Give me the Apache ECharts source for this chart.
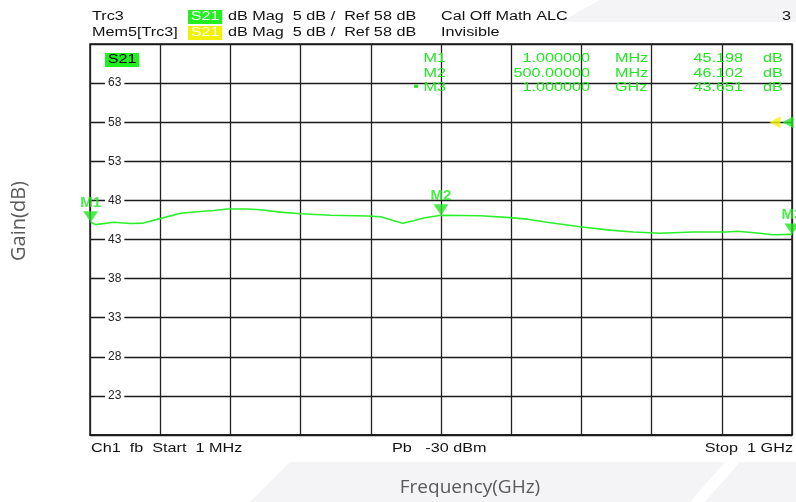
<!DOCTYPE html>
<html>
<head>
<meta charset="utf-8">
<script src="https://cdn.jsdelivr.net/npm/echarts@6/dist/echarts.min.js"></script>
<style>
html, body { margin: 0; padding: 0; background: #fff; }
#chart { width: 796px; height: 502px; }
</style>
</head>
<body>
<div id="chart"></div>
<script>
// trace Trc3 S21 (MHz, dB)
var freqMHz = [1, 8, 34, 58, 76, 101, 129, 153, 176, 196, 224, 243, 271, 300, 343, 395, 414, 445, 461, 475, 500, 556, 598, 623, 651, 698, 741, 774, 812, 859, 907, 922, 954, 973, 1000];
var gainDb = [45.2, 44.9, 45.2, 45.05, 45.1, 45.7, 46.35, 46.55, 46.7, 46.9, 46.9, 46.8, 46.5, 46.3, 46.1, 46.0, 45.9, 45.07, 45.4, 45.74, 46.1, 46.04, 45.8, 45.6, 45.2, 44.63, 44.2, 43.95, 43.8, 43.95, 43.95, 44.05, 43.8, 43.6, 43.65];

var markerNames = ['M1', 'M2', 'M3'];
var markerFreq = [1, 500, 1000];
var markerGain = [45.198, 46.102, 43.651];
var markerFreqText = ['1.000000', '500.00000', '1.000000'];
var markerUnit = ['MHz', 'MHz', 'GHz'];

var yMin = 18, yMax = 68, yStep = 5;
var xMin = 0, xMax = 1000, xStep = 100;
var refLevel = 58;

var green = '#22e622';
var font = '"Liberation Sans", Arial, sans-serif';
var stretch = 1.35;

var chart = echarts.init(document.getElementById('chart'));

// small helper for the instrument texts (screen font is stretched sideways)
function txt (x, y, text, opt) {
  opt = opt || {};
  return {
    type: 'text',
    x: x,
    y: y,
    scaleX: stretch,
    z: 10,
    style: {
      text: text,
      fill: opt.color || '#111',
      font: (opt.size || 12) + 'px ' + font,
      align: opt.align || 'left',
      verticalAlign: 'middle',
      backgroundColor: opt.bg,
      padding: opt.bg ? [1, 2] : 0
    }
  };
}

var graphics = [
  // faint background shapes of the slide
  { type: 'polygon', z: -10, shape: { points: [[600, 0], [796, 0], [796, 22], [560, 22]] }, style: { fill: '#f4f4f6' } },
  { type: 'polygon', z: -10, shape: { points: [[250, 502], [290, 462], [796, 462], [796, 502]] }, style: { fill: '#f4f4f6' } },
  { type: 'polygon', z: -9, shape: { points: [[690, 502], [725, 462], [740, 462], [705, 502]] }, style: { fill: '#ffffff' } },

  txt(92, 17, 'Trc3'),
  txt(188, 17, 'S21', { bg: '#22ee22', color: '#fff' }),
  txt(228, 17, 'dB Mag  5 dB /  Ref 58 dB'),
  txt(441, 17, 'Cal Off Math ALC'),
  txt(791, 17, '3', { align: 'right' }),
  txt(92, 33, 'Mem5[Trc3]'),
  txt(188, 33, 'S21', { bg: '#f2f200', color: '#fff' }),
  txt(228, 33, 'dB Mag  5 dB /  Ref 58 dB'),
  txt(441, 33, 'Invisible'),

  txt(105, 60, 'S21', { bg: '#22ee22', color: '#000' }),

  txt(91, 449, 'Ch1  fb  Start  1 MHz'),
  txt(392, 449, 'Pb   -30 dBm'),
  txt(793, 449, 'Stop  1 GHz', { align: 'right' }),

  {
    type: 'text', x: 470, y: 488, z: 10,
    style: { text: 'Frequency(GHz)', fill: '#595959', font: '19px "Open Sans", sans-serif', align: 'center', verticalAlign: 'middle' }
  },
  {
    type: 'text', x: 19, y: 221, rotation: Math.PI / 2, z: 10,
    style: { text: 'Gain(dB)', fill: '#595959', font: '20px "Open Sans", sans-serif', align: 'center', verticalAlign: 'middle' }
  }
];

// marker table
var rowY = [59, 73.5, 88];
markerNames.forEach(function (name, i) {
  graphics.push(txt(446, rowY[i], (i === 2 ? '• ' : '') + name, { color: green, align: 'right' }));
  graphics.push(txt(590, rowY[i], markerFreqText[i], { color: green, align: 'right' }));
  graphics.push(txt(615, rowY[i], markerUnit[i], { color: green }));
  graphics.push(txt(743, rowY[i], markerGain[i].toFixed(3), { color: green, align: 'right' }));
  graphics.push(txt(763, rowY[i], 'dB', { color: green }));
});

var option = {
  animation: false,
  grid: {
    left: 90,
    right: 4,
    top: 44,
    bottom: 67,
    show: true,
    backgroundColor: '#fff',
    borderColor: '#1a1a1a',
    borderWidth: 1.5
  },
  xAxis: {
    type: 'value',
    min: xMin,
    max: xMax,
    interval: xStep,
    axisLabel: { show: false },
    axisTick: { show: false },
    axisLine: { lineStyle: { color: '#1a1a1a', width: 1.5 } },
    splitLine: { lineStyle: { color: '#222', width: 1.3 } }
  },
  yAxis: {
    type: 'value',
    min: yMin,
    max: yMax,
    interval: yStep,
    axisLine: { show: false },
    axisTick: { show: false },
    splitLine: { lineStyle: { color: '#1a1a1a', width: 1.3 } },
    axisLabel: {
      inside: true,
      margin: 15,
      color: '#222',
      fontSize: 12,
      fontFamily: font,
      backgroundColor: '#fff',
      padding: [0, 3],
      showMinLabel: false,
      showMaxLabel: false
    }
  },
  graphic: graphics,
  series: [
    {
      name: 'Trc3',
      type: 'line',
      showSymbol: false,
      data: freqMHz.map(function (f, i) { return [f, gainDb[i]]; }),
      lineStyle: { color: '#2af02a', width: 1.6 },
      z: 3
    },
    {
      name: 'markers',
      type: 'scatter',
      clip: false,
      symbol: 'triangle',
      symbolRotate: 180,
      symbolSize: [15, 11],
      symbolOffset: [0, -5.5],
      itemStyle: { color: green },
      label: {
        show: true,
        position: 'top',
        distance: 1,
        formatter: '{b}',
        color: green,
        fontSize: 15,
        fontWeight: 'bold',
        fontFamily: font
      },
      data: markerNames.map(function (n, i) { return { name: n, value: [markerFreq[i], markerGain[i]] }; }),
      z: 5
    },
    {
      name: 'ref',
      type: 'scatter',
      clip: false,
      symbol: 'triangle',
      symbolRotate: 90,
      symbolSize: [12, 11],
      data: [
        { value: [xMax, refLevel], symbolOffset: [-17, 0], itemStyle: { color: '#f2f200' } },
        { value: [xMax, refLevel], symbolOffset: [-4, 0], itemStyle: { color: green } }
      ],
      z: 5
    }
  ]
};

chart.setOption(option);
</script>
</body>
</html>
